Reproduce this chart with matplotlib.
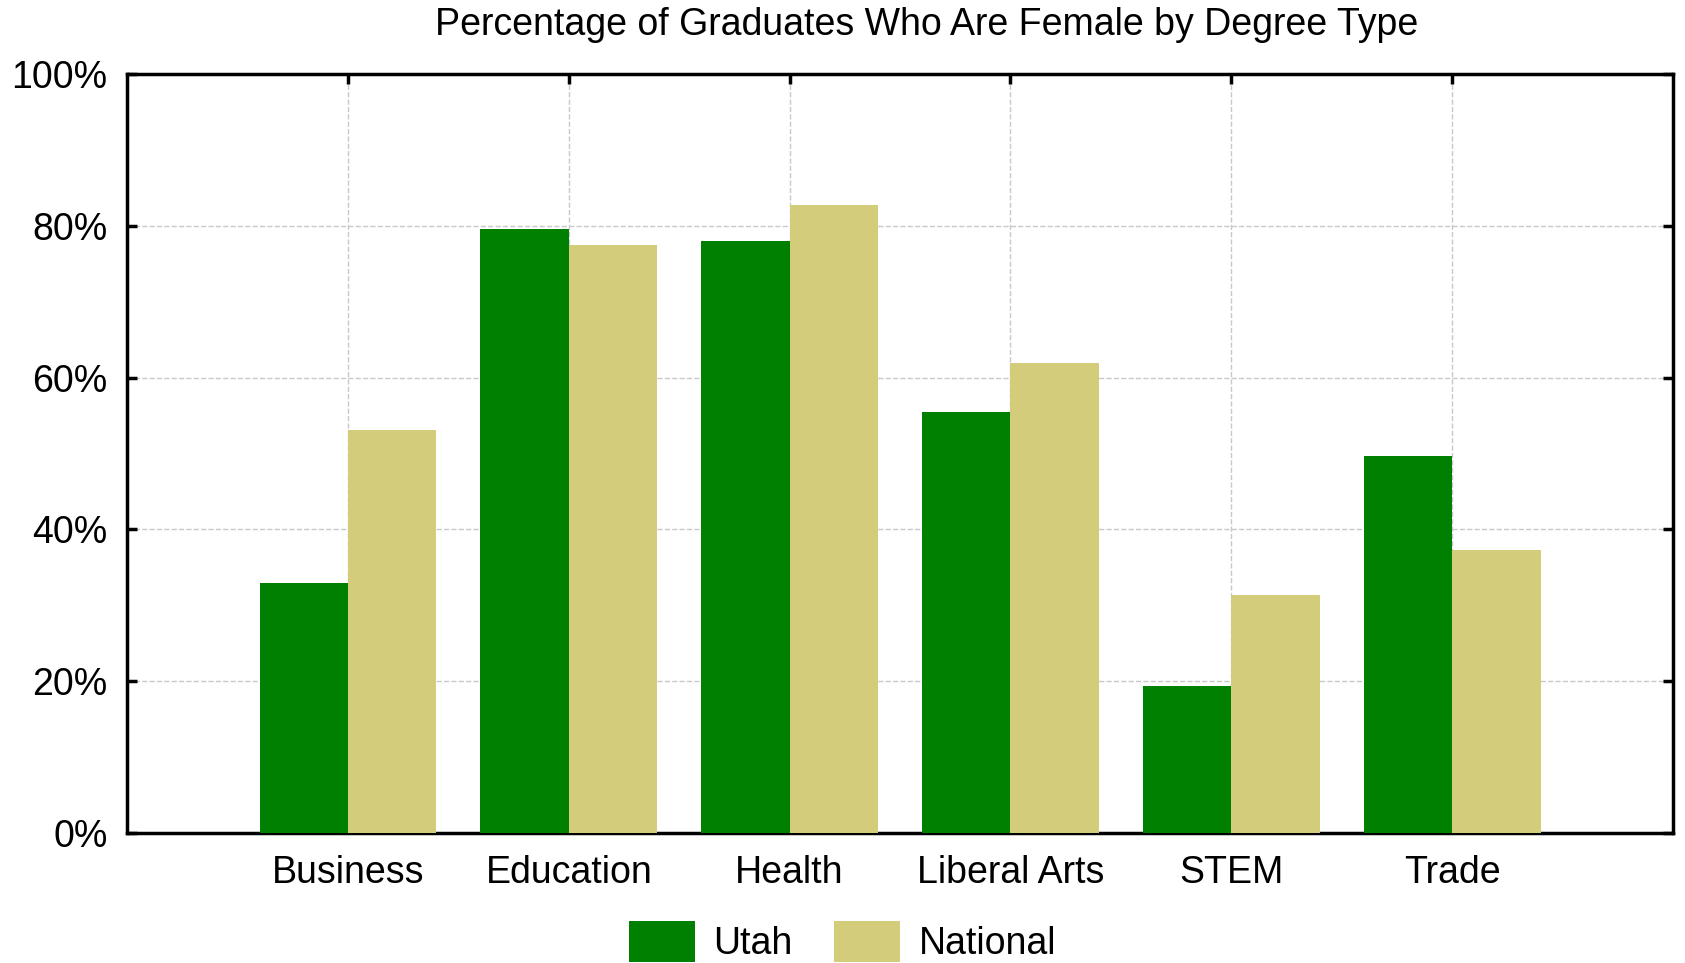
import numpy as np
import matplotlib
matplotlib.use("Agg")
import matplotlib.pyplot as plt
from matplotlib.ticker import PercentFormatter

# Share of graduates who are female, by degree type
categories = ["Business", "Education", "Health", "Liberal Arts", "STEM", "Trade"]
utah = [32.9, 79.6, 78.0, 55.5, 19.4, 49.7]
national = [53.1, 77.5, 82.7, 61.9, 31.3, 37.3]

plt.rcParams["font.family"] = ["Liberation Sans", "DejaVu Sans"]

fig = plt.figure(figsize=(16.85, 9.63), dpi=100)
ax = fig.add_axes([0.0754, 0.135, 0.9175, 0.788])

x = np.arange(len(categories))
w = 0.4
ax.bar(x - w / 2, utah, w, color="#008000", label="Utah", zorder=3)
ax.bar(x + w / 2, national, w, color="#d3cd7b", label="National", zorder=3)

ax.set_xlim(-1, 6)
ax.set_ylim(0, 100)
ax.set_xticks(x)
ax.set_xticklabels(categories)
ax.set_yticks(np.arange(0, 101, 20))
ax.yaxis.set_major_formatter(PercentFormatter(decimals=0))

ax.grid(True, color="#c8c8c8", linestyle="--", linewidth=1, zorder=0)
for s in ax.spines.values():
    s.set_linewidth(2.5)
    s.set_color("black")
ax.tick_params(direction="in", length=7, width=2.5, top=True, right=True,
               labelsize=27, pad=14)
ax.tick_params(axis="x", pad=16)

fig.text(0.55, 0.974, "Percentage of Graduates Who Are Female by Degree Type",
         ha="center", va="center", fontsize=27)

fig.legend(loc="center", bbox_to_anchor=(0.5, 0.022), ncol=2, frameon=False,
           fontsize=27, handlelength=1.75, handleheight=1.3,
           handletextpad=0.5, columnspacing=1.1)

fig.savefig("out.png", dpi=100)
